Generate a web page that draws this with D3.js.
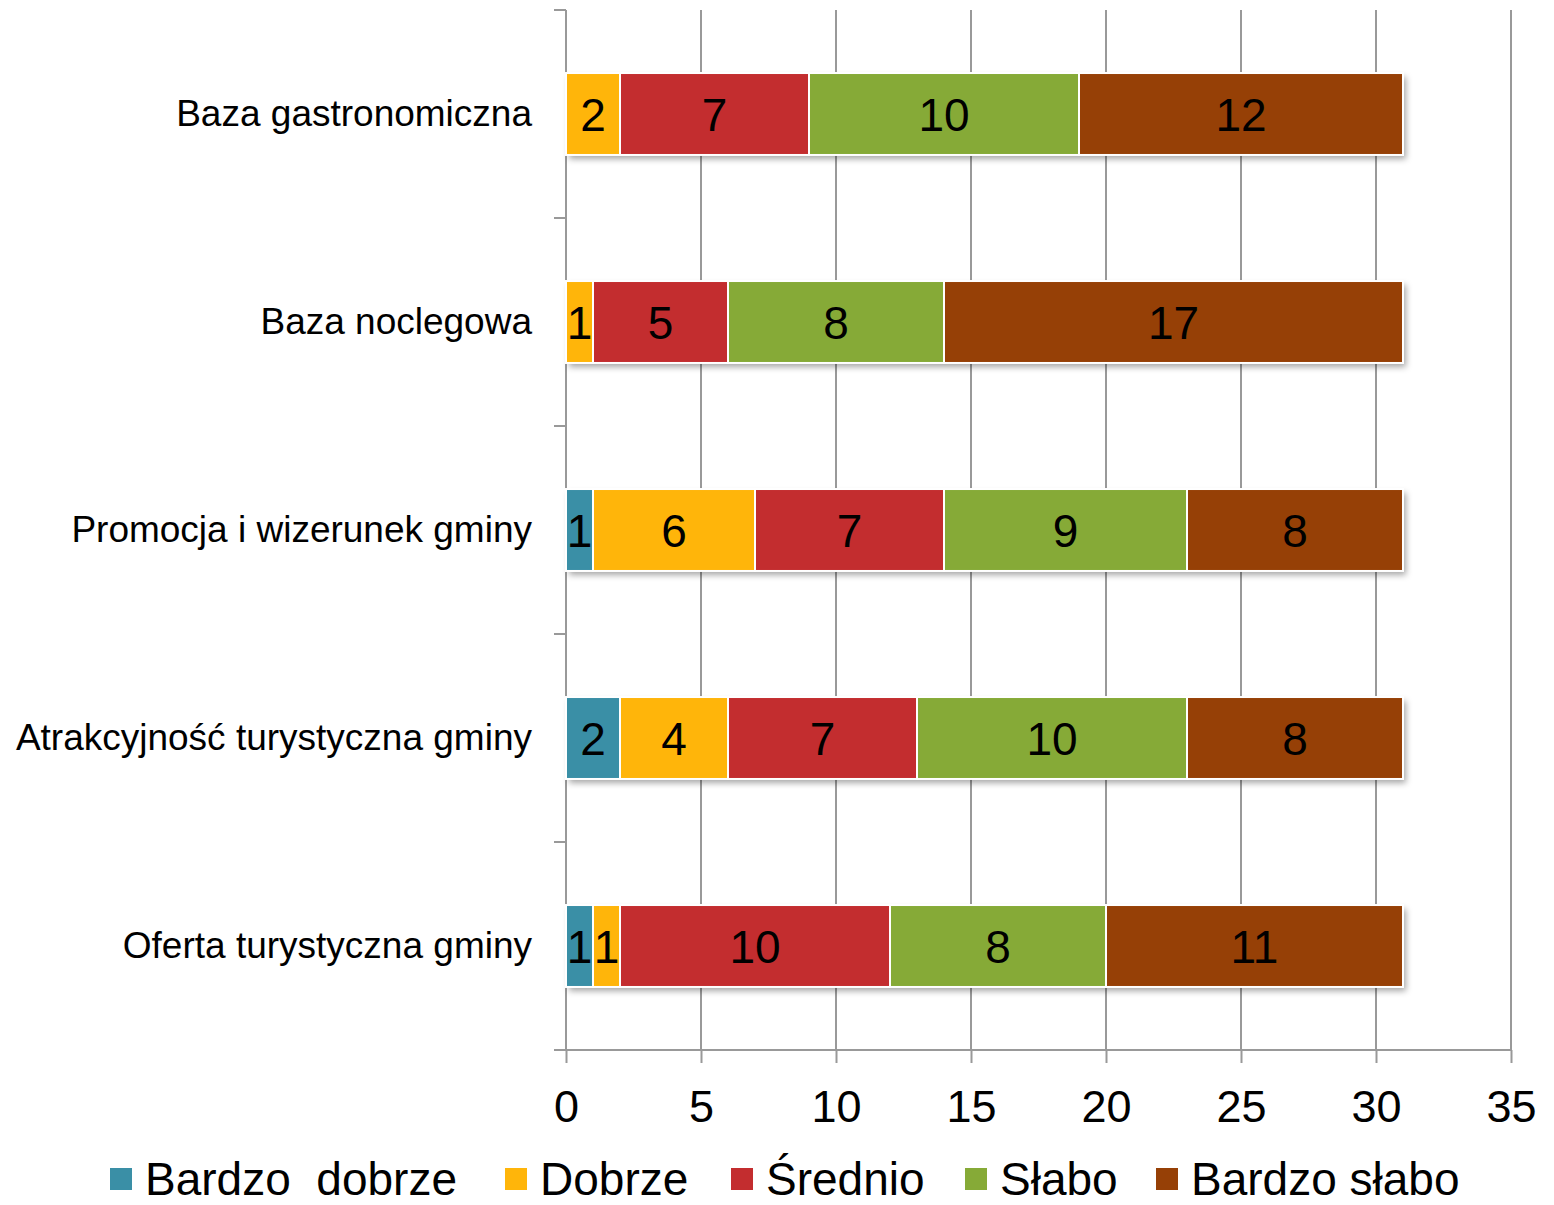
<!DOCTYPE html>
<html lang="en">
<head>
<meta charset="UTF-8">
<title>Ocena gminy</title>
<script src="https://d3js.org/d3.v7.min.js"></script>
<style>
  body { margin: 0; background: #fff; }
  svg { font-family: "Liberation Sans", Arial, sans-serif; }
</style>
</head>
<body>
<svg width="1554" height="1205"></svg>
<script>
// data
const categories = ["Baza gastronomiczna", "Baza noclegowa", "Promocja i wizerunek gminy",
                    "Atrakcyjność turystyczna gminy", "Oferta turystyczna gminy"];
const seriesNames = ["Bardzo  dobrze", "Dobrze", "Średnio", "Słabo", "Bardzo słabo"];
const bardzoDobrze = [0, 0, 1, 2, 1];
const dobrze       = [2, 1, 6, 4, 1];
const srednio      = [7, 5, 7, 7, 10];
const slabo        = [10, 8, 9, 10, 8];
const bardzoSlabo  = [12, 17, 8, 8, 11];
const xTicks = [0, 5, 10, 15, 20, 25, 30, 35];
const colors = ["#3A8FA6", "#FFB50A", "#C32D2F", "#86AA37", "#964006"];

const svg = d3.select("svg");
const values = [bardzoDobrze, dobrze, srednio, slabo, bardzoSlabo];

const rows = categories.map((c, i) => {
  const r = { cat: c };
  seriesNames.forEach((s, j) => r[s] = values[j][i]);
  return r;
});
const stacked = d3.stack().keys(seriesNames)(rows);

const x = d3.scaleLinear().domain([0, 35]).range([566, 1511]);
const y = d3.scaleBand().domain(categories).range([10, 1050])
  .paddingInner(0.606).paddingOuter(0.303);

// shadow
const defs = svg.append("defs");
defs.append("filter").attr("id", "sh").attr("x", "-5%").attr("y", "-20%")
  .attr("width", "115%").attr("height", "160%")
  .append("feDropShadow").attr("dx", 3).attr("dy", 4).attr("stdDeviation", 3)
  .attr("flood-color", "#000").attr("flood-opacity", 0.35);

// gridlines
svg.append("g").selectAll("line").data(xTicks.slice(1)).join("line")
  .attr("x1", d => x(d)).attr("x2", d => x(d))
  .attr("y1", 10).attr("y2", 1050)
  .attr("stroke", "#999").attr("stroke-width", 2);

// x axis
const xa = svg.append("g").attr("transform", "translate(0,1050)")
  .call(d3.axisBottom(x).tickValues(xTicks).tickSize(13).tickPadding(27));
xa.select(".domain").attr("d", "M554,0H1511").attr("stroke", "#999").attr("stroke-width", 2);
xa.selectAll(".tick line").attr("stroke", "#999").attr("stroke-width", 2);
xa.selectAll(".tick text").attr("font-size", 45).attr("fill", "#000")
  .attr("font-family", "Liberation Sans, Arial, sans-serif");

// y axis
const bandStep = y.step();
const ya = svg.append("g").attr("transform", "translate(566,0)")
  .call(d3.axisLeft(y).tickSize(0).tickPadding(34));
ya.select(".domain").attr("d", "M0,10V1050").attr("stroke", "#999").attr("stroke-width", 2);
ya.selectAll(".tick text").attr("font-size", 37).attr("fill", "#000")
  .attr("font-family", "Liberation Sans, Arial, sans-serif");
const yTickPos = d3.range(categories.length + 1).map(i => 10 + i * bandStep);
svg.append("g").selectAll("line").data(yTickPos).join("line")
  .attr("x1", 554).attr("x2", 566).attr("y1", d => d).attr("y2", d => d)
  .attr("stroke", "#999").attr("stroke-width", 2);

// bars
const totals = rows.map(r => d3.sum(seriesNames, s => r[s]));
const barG = svg.append("g");
barG.selectAll("rect.sh").data(categories).join("rect")
  .attr("x", x(0)).attr("y", d => y(d))
  .attr("width", (d, i) => x(totals[i]) - x(0))
  .attr("height", y.bandwidth()).attr("fill", "#fff").attr("filter", "url(#sh)");

const layers = barG.selectAll("g.layer").data(stacked).join("g")
  .attr("fill", (d, i) => colors[i]);
layers.selectAll("rect").data(d => d.filter(p => p[1] - p[0] > 0)).join("rect")
  .attr("x", d => x(d[0])).attr("y", d => y(d.data.cat))
  .attr("width", d => x(d[1]) - x(d[0])).attr("height", y.bandwidth())
  .attr("stroke", "#fff").attr("stroke-width", 2);

// value labels
layers.selectAll("text").data(d => d.filter(p => p[1] - p[0] > 0)).join("text")
  .attr("x", d => (x(d[0]) + x(d[1])) / 2)
  .attr("y", d => y(d.data.cat) + y.bandwidth() / 2)
  .attr("dy", "0.36em").attr("text-anchor", "middle")
  .attr("font-size", 46).attr("fill", "#000")
  .text(d => d[1] - d[0]);

// legend
const legendX = [110, 505, 731, 965, 1156];
const lg = svg.append("g").selectAll("g").data(seriesNames).join("g")
  .attr("transform", (d, i) => `translate(${legendX[i]},1178)`);
lg.append("rect").attr("x", 0).attr("y", -10).attr("width", 22).attr("height", 22)
  .attr("fill", (d, i) => colors[i]);
lg.append("text").attr("x", 35).attr("dy", "0.36em")
  .attr("font-size", 46).attr("fill", "#000")
  .style("white-space", "pre").attr("xml:space", "preserve")
  .text(d => d);
</script>
</body>
</html>
